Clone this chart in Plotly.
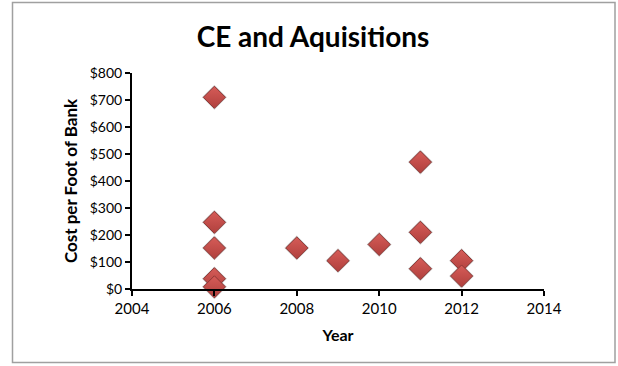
import plotly.graph_objects as go

years = [2006, 2006, 2006, 2006, 2006, 2008, 2009, 2010, 2011, 2011, 2011, 2012, 2012]
cost = [710, 247, 152, 38, 8, 152, 105, 165, 470, 210, 75, 105, 48]

fig = go.Figure()
# soft shadow
fig.add_trace(go.Scatter(
    x=years, y=cost, mode="markers", cliponaxis=False, hoverinfo="skip",
    marker=dict(symbol="diamond", size=19, color="rgba(90,90,90,0.35)",
                line=dict(width=0)),
    showlegend=False,
))
fig.add_trace(go.Scatter(
    x=years, y=cost, mode="markers", cliponaxis=False,
    marker=dict(symbol="diamond", size=17, color="#d65c58",
                gradient=dict(type="vertical", color="#b0403d"),
                line=dict(color="#8e3835", width=1)),
    showlegend=False,
))

font = "Lato, 'Open Sans', sans-serif"
fig.update_layout(
    width=618, height=366,
    margin=dict(l=132, r=74, t=73, b=77, autoexpand=False),
    paper_bgcolor="white", plot_bgcolor="white",
    font=dict(family=font, color="black", size=15),
    title=dict(text="<b>CE and Aquisitions</b>", x=313 / 618, xanchor="center",
               xref="container", y=1 - 37 / 366, yref="container", yanchor="middle",
               automargin=False,
               font=dict(size=28, family=font, color="black")),
    xaxis=dict(range=[2004, 2014], dtick=2, tick0=2004, showgrid=False,
               zeroline=False, showline=True, linecolor="black", linewidth=2,
               ticks="outside", ticklen=5, tickcolor="black", tickwidth=1.5,
               tickfont=dict(size=15), automargin=False,
               title=dict(text="<b>Year</b>", font=dict(size=16), standoff=14)),
    yaxis=dict(range=[0, 800], dtick=100, tickprefix="$", showgrid=False,
               zeroline=False, showline=True, linecolor="black", linewidth=2,
               ticks="outside", ticklen=5, tickcolor="black", tickwidth=1.5,
               tickfont=dict(size=14), automargin=False,
               title=dict(text="<b>Cost per Foot of Bank</b>", font=dict(size=17), standoff=8)),
    shapes=[dict(type="rect", xref="paper", yref="paper",
                 x0=(12.5 - 132) / 412, x1=(615 - 132) / 412,
                 y0=(289 - 362.5) / 216, y1=(289 - 2.5) / 216,
                 line=dict(color="#a0a0a0", width=1.5), layer="below")],
)

fig.write_html("out.html", config={"displayModeBar": False},
               post_script="document.body.style.margin='0px';")
